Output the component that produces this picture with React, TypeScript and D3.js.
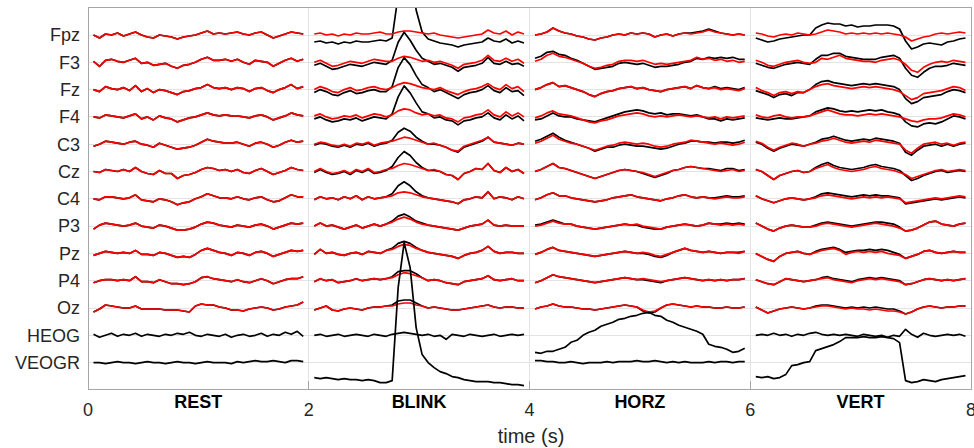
import React from "react";
import * as d3 from "d3";

// channel order, top to bottom
const channels = ["Fpz", "F3", "Fz", "F4", "C3", "Cz", "C4", "P3", "Pz", "P4", "Oz", "HEOG", "VEOGR"];
const segmentNames = ["REST", "BLINK", "HORZ", "VERT"];
const timeTicks = [0, 2, 4, 6, 8];

// 36 samples per 2 s segment, values in µV (positive up)
const samplesPerSegment = 36;
const segmentSeconds = 2;
const uvPerRow = 27.3;

// cleaned EEG (red), one row per EEG channel
const cleanRest = [
  [0, -3, 1, 0, 2, -1, 1, 3, 0, -2, -3, 0, -1, -2, -4, -2, -1, 0, 2, 4, 1, 2, 1, 2, 3, 1, 0, 2, 3, 0, -3, -1, 1, 3, 2, 1],
  [1, -4, 2, 3, 1, 0, 2, 4, -1, 0, -3, -2, -1, -4, -6, -3, -2, 0, 3, 5, 2, 2, 3, 1, 3, 0, -2, 2, 1, 0, -4, -1, 2, 4, 1, 3],
  [0, -2, 3, 1, 0, 2, -1, 4, -2, 1, -3, 0, -1, -3, -5, -2, -1, 1, 2, 5, 2, 1, 2, 0, 2, 1, -2, 1, 2, -1, -3, 0, 2, 5, 1, 3],
  [0, -1, 2, 1, 0, -1, 1, 3, -2, 0, -3, 1, -1, -2, -5, -3, -1, 0, 2, 4, 2, 1, 2, 1, 1, 0, -1, 1, 2, 0, -3, -1, 1, 4, 2, 1],
  [-2, 0, 3, 2, 1, 0, 2, 3, 0, -1, -3, 1, -1, -3, -5, -4, -3, -1, 2, 5, 3, 2, 1, 1, 2, 0, -2, 1, 2, 0, -3, -1, 2, 4, 2, 3],
  [0, -1, 2, 1, 0, 2, 0, 4, 0, -2, -3, 1, -2, -2, -7, -4, -3, -1, 2, 4, 3, 1, 2, 0, 2, -1, -2, 1, 3, 0, -3, -1, 1, 4, 2, 1],
  [0, -1, 2, 2, 1, 0, 1, 4, -1, -2, -3, 0, -1, -3, -6, -4, -3, 0, 2, 5, 3, 1, 1, 0, 2, 0, -1, 1, 2, -1, -3, -2, 1, 4, 2, 2],
  [-3, 1, 3, 2, 1, 0, 1, 3, 0, -1, -2, 1, 0, -2, -4, -4, -3, -1, 2, 4, 3, 1, 0, -1, 1, 0, -1, 1, 2, 0, -3, -1, 1, 3, 2, 3],
  [-2, 0, 2, 1, 0, 1, 0, 3, -1, -1, -2, 1, 0, -2, -4, -3, -4, -1, 3, 5, 3, 1, 0, -2, 1, 0, -2, 1, 2, 0, -3, -1, 1, 3, 2, 3],
  [-2, 0, 1, 1, 0, 1, 0, 4, -1, -1, -2, 1, -1, -3, -3, -4, -3, -1, 3, 4, 2, 1, 0, -1, 1, -1, -2, 0, 2, 0, -3, -1, 1, 2, 2, 4],
  [-4, -1, 3, 2, 1, 0, 0, 2, -1, -1, -1, -1, -2, -2, -2, -3, -4, 2, 4, 3, 3, 1, 0, -2, -2, -3, -1, 0, 1, 0, -2, -1, 1, 2, 3, 6],
];

const cleanBlink = [
  [1, 2, 0, 1, -1, 1, 0, 2, 1, 1, 2, 3, 1, 1, 3, 4, 4, 3, 2, 1, 2, 0, -1, -2, -3, -2, -1, 0, 1, 5, 2, 1, 4, 0, 3, 1],
  [0, 2, -1, -4, -3, -1, 1, 0, -1, 1, 3, 2, 1, 1, 4, 6, 5, 3, 1, 2, 0, 1, -1, -3, -6, -2, -1, 0, 2, 7, 2, 1, 4, 1, 3, -1],
  [0, 3, 1, -2, -3, 0, 2, -1, 0, 2, 3, 1, 0, 2, 5, 7, 6, 4, 2, 1, 0, 2, -1, -3, -5, -2, 0, 1, 3, 6, 2, 0, 5, 1, 3, -2],
  [1, 3, 0, -2, -1, 1, 0, 2, -1, 1, 3, 2, 0, 2, 6, 8, 7, 4, 2, 3, 1, 2, -1, -2, -5, -1, 0, 2, 3, 7, 2, 0, 5, 1, 4, 0],
  [0, 2, 1, -1, -2, 0, -2, 1, 0, 2, -1, 1, 2, 3, 5, 7, 6, 4, 2, 0, 1, -1, -3, -6, -7, -2, 0, 2, 4, 7, 2, 1, 0, -1, 1, 0],
  [0, 3, 0, -2, -1, 1, -2, 2, 0, 3, -1, 0, 2, 3, 6, 8, 7, 5, 3, 1, 2, 0, -3, -4, -8, -2, 0, 3, 2, 8, 1, -1, 4, 0, 2, -2],
  [-1, 2, 0, 1, -1, 2, 0, 3, -1, 2, 0, 1, 2, 3, 6, 7, 6, 4, 2, 1, 0, -1, -2, -3, -5, -1, 0, 2, 1, 7, 0, 2, 1, -1, 2, 0],
  [0, 3, 0, 1, -1, -3, -1, 1, -2, 0, 2, 0, 2, 4, 7, 9, 7, 4, 2, 1, 0, -1, -2, -3, -4, -2, 0, 1, 2, 6, 1, 0, 1, 0, 0, 0],
  [-1, 4, 0, 1, -1, -2, 0, 1, -1, 2, 1, 0, 3, 4, 7, 9, 8, 5, 3, 1, 0, -1, -2, -3, -5, -2, 0, 1, 3, 7, 2, 0, 1, 1, 0, 0],
  [-1, 2, 0, 1, -2, -1, 0, 2, 0, 1, 2, 1, 2, 3, 6, 8, 7, 5, 3, 0, 1, 0, -2, -3, -4, -1, 0, 1, 2, 5, 1, 0, 1, 2, 0, 0],
  [-2, 0, 2, -2, -3, -1, 0, -1, -2, 0, 1, 1, 2, 2, 4, 5, 5, 3, 2, 0, 1, 0, -1, -2, -2, -1, 0, 1, 2, 3, 1, 0, 1, 1, 0, 0],
];

const cleanHorz = [
  [0, 1, 3, 7, 4, 2, 1, -1, -2, -4, -5, -3, -2, 0, 1, 0, 2, 1, 2, 1, -2, 0, 1, -1, 1, 2, 1, 2, 3, 5, 3, 2, 1, 0, 1, 0],
  [1, 3, 7, 9, 6, 5, 3, 1, -1, -4, -6, -5, -3, -2, 1, 2, 2, 1, 2, 0, -2, -1, -2, -1, 0, 1, 2, 5, 3, 4, 2, 3, 1, 2, 0, 1],
  [0, 2, 5, 7, 3, 4, 2, 0, -2, -5, -7, -4, -2, -1, 1, 2, 3, 1, 2, 0, -1, -2, 0, 1, 2, 3, 1, 4, 2, 1, 2, 0, 1, 0, -1, 1],
  [-1, 1, 4, 6, 3, 2, 1, -1, -3, -5, -6, -4, -3, -1, 1, 2, 3, 4, 3, 1, 0, 1, 0, 1, 2, 1, 0, 1, 0, -1, 0, -2, 0, -1, 0, 1],
  [1, 3, 6, 9, 5, 3, 1, 0, -2, -4, -6, -4, -2, -1, 1, 2, 1, 0, 1, 0, -2, -3, -2, 0, 1, 2, 4, 3, 2, 1, 0, 1, 0, -1, 0, 2],
  [0, 2, 5, 8, 4, 3, 1, -1, -3, -5, -7, -5, -3, -1, 1, 2, 1, 0, -1, -3, -5, -3, -1, 1, 2, 4, 5, 4, 3, 2, 1, 0, 1, 2, 0, 1],
  [-1, 1, 4, 6, 3, 3, 1, 0, -1, -2, -3, -2, -1, 1, 2, 3, 4, 2, 1, 0, -1, -2, 0, 1, 3, 4, 2, 1, 2, 1, 0, 1, 2, 1, 1, 2],
  [0, 1, 3, 5, 3, 2, 2, 0, -1, -2, -3, -2, -1, 0, 1, 2, 1, 2, 0, -1, -2, -3, -1, 0, 1, 2, 1, 0, 1, 3, 2, 1, 2, 1, 2, 1],
  [-1, 1, 4, 6, 3, 2, 1, 0, -1, -2, -3, -2, -1, 0, 1, 2, 1, 0, 1, 0, -2, -3, -1, 1, 3, 5, 3, 2, 1, 2, 1, 0, 1, 1, 0, 2],
  [-2, 0, 3, 6, 4, 3, 2, 1, 0, -1, -2, -1, 0, 1, 2, 3, 2, 1, 2, 1, 0, -1, 0, 1, 2, 3, 2, 1, 0, 1, 0, 1, 0, 1, 1, 2],
  [-1, 1, 2, 4, 2, 1, 1, 0, -1, -1, -2, -1, 0, 1, 2, 3, 2, 1, -2, -4, -3, 0, 3, 4, 3, 2, 1, 2, 1, 1, 0, 0, 1, 0, 0, 1],
];

const cleanVert = [
  [2, 1, -1, -2, 0, 1, 0, 2, 1, 0, 1, 3, 5, 4, 3, 1, 2, 1, 2, 1, 2, 1, 2, 1, 0, -2, -6, -4, -2, -1, 1, 2, 1, 2, 3, 2],
  [2, 0, -3, -4, -2, 0, 1, 2, 0, -1, 0, 4, 3, 5, 7, 4, 3, 2, 1, 1, 0, 2, 3, 4, 2, -2, -8, -10, -5, -2, 0, 1, 0, 2, 1, 0],
  [2, -1, -3, -6, -3, -2, -4, -2, -3, 0, 3, 5, 6, 4, 3, 2, 1, 2, 3, 2, 3, 2, 1, 0, -2, -6, -10, -8, -4, -3, -2, -1, 1, 3, 2, -1],
  [2, 0, -1, 1, 2, 0, -1, 0, 0, 1, 3, 5, 7, 5, 3, 2, 2, 1, 2, 3, 2, 3, 2, 1, 0, -2, -4, -5, -3, -2, -2, -1, 1, 3, 2, 0],
  [3, 1, -3, -6, -3, -1, 1, 0, -2, 0, 1, 3, 4, 6, 4, 2, 1, 2, 3, 2, 4, 3, 2, 1, 0, -6, -9, -4, 0, 1, 2, 0, 1, -1, 1, 2],
  [2, 0, -4, -8, -4, -2, 0, 1, -1, 0, 3, 5, 7, 4, 2, 1, 0, 1, 2, 4, 5, 3, 2, 1, -1, -3, -7, -5, -3, -1, 1, 2, 0, 1, 2, 1],
  [3, 0, -2, -4, -2, 0, 1, 0, -1, 0, 1, 3, 4, 3, 2, 1, 0, 1, 2, 1, 2, 1, 2, 1, 0, -4, -3, -2, -1, 0, 1, 0, 1, 2, 3, 2],
  [3, 0, -3, -5, -2, 0, 1, 0, -1, -1, 0, 2, 3, 2, 1, 0, -1, 0, 1, 2, 3, 2, 1, 0, -2, -5, -4, -2, 1, 4, 5, 2, 1, 0, 2, 3],
  [0, -3, -6, -8, -3, 0, 1, 2, 0, -1, 1, 3, 4, 5, 3, -1, 1, 2, 1, 2, 1, 2, 0, -1, -2, -5, -3, -1, 2, 3, 1, 0, 1, 2, 1, 1],
  [1, -1, -3, -4, -1, 2, 1, 0, -1, 0, 1, 2, 3, 1, 0, -1, -2, 0, 1, 2, 1, 2, 1, 0, -1, -4, -3, -1, 1, 2, 1, 0, 1, 0, 1, 2],
  [1, -2, -5, -3, -1, 0, 1, 0, -1, 0, 1, 2, 2, 1, 0, -1, 0, -1, -1, -2, -1, -2, -3, -3, -4, -6, -4, -1, 1, 2, 1, 0, 1, 1, 2, 2],
];

// raw EEG (black); at rest it is the same as the cleaned signal
const rawRest = cleanRest;

const rawBlink = [
  [-7, -6, -8, -7, -9, -7, -8, -6, -7, -7, -6, -5, -6, -3, 40, 85, 70, 25, 3, -4, -6, -8, -9, -10, -12, -10, -9, -8, -7, -3, -6, -7, -4, -8, -6, -8],
  [-3, -1, -4, -7, -6, -4, -2, -3, -4, -2, 0, -1, -2, 2, 20, 30, 22, 12, 4, 1, -2, -1, -3, -5, -9, -5, -4, -3, -1, 5, -1, -2, 1, -2, -1, -4],
  [-3, 0, -2, -5, -6, -3, -1, -4, -3, -1, 0, -2, -2, 3, 22, 32, 25, 14, 5, 2, -2, 0, -3, -6, -9, -5, -3, -2, 0, 4, -1, -3, 2, -2, -1, -6],
  [-2, 0, -3, -5, -4, -2, -3, -1, -4, -2, 0, -1, -2, 3, 20, 31, 24, 14, 5, 3, -1, 0, -3, -4, -8, -4, -3, -1, 0, 4, -1, -3, 2, -2, 1, -4],
  [-1, 1, 0, -2, -3, -1, -3, 0, -1, 1, -2, 0, 1, 4, 12, 16, 13, 7, 3, 0, 0, -1, -3, -6, -8, -3, -1, 1, 3, 7, 2, 1, 0, -1, 1, 0],
  [-1, 2, -1, -3, -2, 0, -3, 1, -1, 2, -2, -1, 1, 5, 14, 20, 16, 9, 4, 1, 1, 0, -3, -4, -8, -2, 0, 3, 2, 8, 1, -1, 4, 0, 2, -2],
  [-1, 2, 0, 1, -1, 2, 0, 3, -1, 2, 0, 1, 2, 5, 13, 17, 13, 7, 3, 1, 0, -1, -2, -3, -5, -1, 0, 2, 1, 7, 0, 2, 1, -1, 2, 0],
  [0, 3, 0, 1, -1, -3, -1, 1, -2, 0, 2, 0, 2, 5, 10, 12, 9, 5, 3, 1, 0, -1, -2, -3, -4, -2, 0, 1, 2, 6, 1, 0, 1, 0, 0, 0],
  [-1, 4, 0, 1, -1, -2, 0, 1, -1, 2, 1, 0, 3, 5, 10, 12, 10, 6, 3, 1, 0, -1, -2, -3, -5, -2, 0, 1, 3, 7, 2, 0, 1, 1, 0, 0],
  [-1, 2, 0, 1, -2, -1, 0, 2, 0, 1, 2, 1, 2, 4, 9, 10, 10, 7, 3, 0, 1, 0, -2, -3, -4, -1, 0, 1, 2, 5, 1, 0, 1, 2, 0, 0],
  [-2, 0, 2, -2, -3, -1, 0, -1, -2, 0, 1, 1, 2, 3, 7, 8, 8, 5, 2, 0, 1, 0, -1, -2, -2, -1, 0, 1, 2, 3, 1, 0, 1, 1, 0, 0],
];

const rawHorz = [
  [0, 1, 3, 7, 4, 2, 1, -1, -2, -4, -5, -3, -2, 0, 1, 0, 2, 1, 2, 1, -2, 0, 1, -1, 1, 2, 2, 3, 4, 6, 4, 2, 1, 0, 1, 0],
  [4, 6, 10, 11, 8, 7, 4, 2, -1, -4, -7, -6, -5, -4, -1, 0, -1, -2, -1, -3, -5, -4, -4, -3, -2, 0, 1, 4, 3, 5, 4, 5, 4, 5, 3, 3],
  [0, 2, 5, 7, 3, 4, 2, 0, -2, -5, -7, -4, -2, -1, 1, 2, 3, 1, 2, 0, -1, -2, 0, 1, 2, 3, 1, 4, 2, 1, 3, 1, 2, 1, 0, 2],
  [-3, -2, 1, 4, 1, 0, 0, -2, -3, -4, -5, -3, -1, 1, 3, 5, 6, 7, 6, 4, 3, 4, 2, 3, 3, 2, 1, 2, 0, -2, -2, -4, -2, -3, -2, -1],
  [3, 5, 8, 11, 7, 4, 2, 0, -2, -4, -7, -5, -3, -3, -1, 0, -1, -2, -2, -3, -4, -5, -4, -2, 0, 1, 3, 3, 2, 2, 1, 2, 2, 1, 2, 4],
  [0, 2, 5, 8, 4, 3, 1, -1, -3, -5, -7, -5, -3, -1, 1, 2, 1, 0, -2, -4, -6, -4, -2, 1, 2, 4, 5, 4, 3, 3, 2, 1, 3, 3, 1, 2],
  [-1, 1, 4, 6, 3, 3, 1, 0, -1, -2, -3, -2, -1, 1, 2, 3, 4, 2, 1, 0, -1, -2, 0, 1, 3, 4, 2, 1, 2, 1, 1, 2, 3, 2, 2, 3],
  [1, 2, 4, 6, 4, 2, 2, 0, -1, -2, -3, -2, -1, 0, 1, 2, 1, 1, -1, -2, -3, -3, -1, 0, 1, 2, 1, 0, 1, 3, 2, 2, 3, 2, 3, 2],
  [-1, 1, 4, 6, 3, 2, 1, 0, -1, -2, -3, -2, -1, 0, 1, 2, 1, 0, 0, -1, -3, -4, -2, 1, 3, 5, 3, 2, 1, 2, 1, 0, 1, 1, 1, 2],
  [-2, 0, 3, 6, 4, 3, 2, 1, 0, -1, -2, -1, 0, 1, 2, 3, 2, 1, 1, 0, -1, -2, 0, 1, 2, 3, 2, 1, 0, 1, 0, 1, 0, 1, 1, 2],
  [-1, 1, 2, 4, 2, 1, 1, 0, -1, -1, -2, -1, 0, 1, 2, 3, 2, 1, -3, -5, -4, 0, 3, 4, 3, 2, 1, 2, 1, 1, 0, 0, 1, 0, 0, 1],
];

const rawVert = [
  [-3, -5, -7, -6, -4, -3, -2, -1, 0, 0, 7, 10, 12, 11, 11, 9, 10, 8, 9, 9, 10, 10, 10, 9, 6, -6, -14, -12, -9, -8, -9, -10, -7, -6, -4, -3],
  [-1, -3, -5, -6, -4, -2, -1, 0, -1, -2, 3, 7, 7, 9, 9, 6, 5, 4, 3, 3, 3, 5, 6, 7, 4, -6, -13, -15, -10, -6, -4, -4, -3, -1, -2, -3],
  [-1, -3, -5, -8, -5, -4, -6, -3, -3, 0, 5, 8, 9, 7, 6, 5, 4, 5, 6, 5, 6, 5, 4, 3, 0, -9, -14, -12, -8, -7, -6, -5, -2, 0, -1, -3],
  [-1, -2, -3, -2, -1, -2, -2, -1, 0, 1, 5, 7, 9, 8, 6, 5, 6, 5, 6, 7, 6, 7, 5, 4, 2, -5, -9, -10, -7, -6, -7, -5, -2, 1, 0, -2],
  [2, 0, -4, -7, -4, -2, 0, -1, -2, 0, 2, 5, 6, 8, 6, 4, 3, 4, 5, 4, 6, 5, 4, 3, 1, -8, -11, -6, -2, -1, 0, -2, 0, -2, 0, 1],
  [2, 0, -4, -8, -4, -2, 0, 1, -1, 0, 4, 7, 9, 6, 4, 3, 2, 3, 4, 6, 7, 5, 4, 3, 1, -4, -9, -7, -4, -2, 0, 1, -1, 0, 1, 0],
  [3, 0, -2, -4, -2, 0, 1, 0, -1, 0, 2, 5, 6, 5, 4, 3, 2, 3, 4, 3, 4, 3, 3, 2, 1, -5, -4, -3, -2, -1, 0, -1, 0, 1, 2, 1],
  [3, 0, -3, -5, -2, 0, 1, 0, -1, -1, 1, 3, 4, 3, 2, 1, 0, 1, 2, 3, 4, 4, 3, 2, -1, -5, -4, -2, 1, 4, 5, 2, 1, 0, 2, 3],
  [0, -3, -6, -8, -3, 0, 1, 2, 0, -1, 2, 4, 5, 6, 4, 1, 2, 3, 3, 4, 3, 4, 3, 1, -1, -5, -3, -1, 2, 3, 1, 0, 1, 2, 1, 1],
  [1, -1, -3, -4, -1, 2, 1, 0, -1, 0, 1, 3, 4, 2, 1, 0, -1, 1, 2, 3, 2, 3, 2, 1, 0, -4, -3, -1, 1, 2, 1, 0, 1, 0, 1, 2],
  [1, -2, -5, -3, -1, 0, 1, 0, -1, 0, 2, 3, 3, 2, 1, 0, 1, 0, 1, 0, 1, 0, -1, -1, -3, -6, -4, -1, 1, 2, 1, 0, 1, 1, 2, 2],
];

// EOG channels, one row per segment (REST, BLINK, HORZ, VERT)
const heog = [
  [1, -2, 0, 2, -1, 1, 0, 2, -1, 1, 0, -1, 1, 0, 2, 1, 3, 0, -1, 1, 0, -1, 1, -2, 0, 1, -1, 0, 2, -1, 1, 0, 3, 1, 4, -1],
  [0, 1, -1, 0, 1, -1, 0, 1, 0, -1, 1, 0, -1, 1, 2, 3, 2, 1, 0, 1, -1, 0, -4, 1, 0, -1, 1, 0, -1, 0, 1, -1, 0, 1, 0, 1],
  [-17, -18, -16, -16, -14, -12, -7, -5, 0, 3, 5, 9, 11, 13, 16, 17, 19, 20, 22, 23, 20, 19, 15, 13, 10, 8, 6, 4, 1, -9, -11, -12, -14, -17, -16, -13],
  [0, 1, 0, 2, 0, 1, -1, 1, 0, 2, 3, 1, 0, 1, 0, 1, 0, -1, 1, 0, -1, 0, -2, 0, -1, 6, 1, -2, 2, 0, -1, 0, 1, 0, 1, -1],
];

const veogr = [
  [0, 0, -1, 0, 1, 0, 0, -1, 0, 1, 0, 0, -1, 0, 1, 0, 0, -1, 0, 1, 0, 0, 0, -1, 1, 0, 1, 2, 1, 1, 2, 1, 0, 2, 2, 1],
  [-15, -16, -15, -16, -17, -16, -17, -17, -18, -17, -18, -20, -20, -18, 75, 120, 95, 35, 8, 0, -5, -9, -11, -14, -15, -17, -18, -19, -19, -19, -20, -20, -21, -22, -22, -23],
  [2, 2, 1, 1, 0, 0, 1, 0, -1, 0, 0, 0, 1, 0, 1, 1, 1, 2, 1, 1, 2, 1, 0, 1, 0, 1, 0, 0, 0, 1, 0, 1, 1, 0, 1, 1],
  [-14, -15, -14, -16, -15, -12, -3, -2, 0, 1, 12, 14, 16, 18, 21, 25, 25, 25, 26, 25, 25, 26, 25, 24, 20, -18, -20, -19, -17, -18, -19, -17, -16, -15, -14, -13],
];

const cleanSegments = [cleanRest, cleanBlink, cleanHorz, cleanVert];
const rawSegments = [rawRest, rawBlink, rawHorz, rawVert];

const FONT = "'Liberation Sans', Arial, Helvetica, sans-serif";

export default function App() {
  const width = 974;
  const height = 448;
  const plotLeft = 88;
  const plotRight = 971;
  const plotTop = 7.7;
  const plotBottom = 389.9;

  const x = d3.scaleLinear().domain([0, 8]).range([plotLeft, plotRight]);
  const y = d3
    .scaleLinear()
    .domain([0, channels.length + 1])
    .range([plotTop, plotBottom]);

  const sampleTime = (seg: number, i: number) =>
    seg * segmentSeconds + 0.05 + (i * (segmentSeconds - 0.1)) / (samplesPerSegment - 1);

  const trace = (values: number[], seg: number, row: number) =>
    d3
      .line<number>()
      .x((_, i) => x(sampleTime(seg, i)))
      .y((v) => y(row - v / uvPerRow))(values) || "";

  const gridColor = "#e3e3e3";
  const axisColor = "#a6a6a6";
  const textColor = "#262626";
  const lw = 1.7;

  return (
    <svg
      width={width}
      height={height}
      style={{ position: "absolute", left: 0, top: 0, background: "#fff" }}
    >
      <defs>
        <clipPath id="plot-area">
          <rect x={plotLeft} y={plotTop} width={plotRight - plotLeft} height={plotBottom - plotTop} />
        </clipPath>
      </defs>

      {/* grid */}
      <g shapeRendering="crispEdges">
        {channels.map((c, k) => (
          <line key={c} x1={plotLeft} x2={plotRight} y1={y(k + 1)} y2={y(k + 1)} stroke={gridColor} strokeWidth={1} />
        ))}
        {timeTicks.slice(1, -1).map((t) => (
          <line key={t} x1={x(t)} x2={x(t)} y1={plotTop} y2={plotBottom} stroke={gridColor} strokeWidth={1} />
        ))}
      </g>

      <g clipPath="url(#plot-area)" fill="none" strokeLinejoin="round">
        {segmentNames.map((s, seg) => (
          <g key={s}>
            {rawSegments[seg].map((vals, ch) => (
              <g key={ch}>
                <path d={trace(vals, seg, ch + 1)} stroke="#000" strokeWidth={lw} />
                <path d={trace(cleanSegments[seg][ch], seg, ch + 1)} stroke="#ff0000" strokeWidth={lw} />
              </g>
            ))}
            <path d={trace(heog[seg], seg, 12)} stroke="#000" strokeWidth={lw} />
            <path d={trace(veogr[seg], seg, 13)} stroke="#000" strokeWidth={lw} />
          </g>
        ))}
      </g>

      {/* axes box and ticks */}
      <g shapeRendering="crispEdges" stroke={axisColor} strokeWidth={1}>
        <rect x={plotLeft} y={plotTop} width={plotRight - plotLeft} height={plotBottom - plotTop} fill="none" />
        {timeTicks.map((t) => (
          <line key={t} x1={x(t)} x2={x(t)} y1={plotBottom} y2={plotBottom - 9} />
        ))}
      </g>

      {/* channel labels */}
      <g fontFamily={FONT} fontSize={18} fill={textColor} textAnchor="end">
        {channels.map((c, k) => (
          <text key={c} x={plotLeft - 8} y={y(k + 1)} dy="0.35em">
            {c}
          </text>
        ))}
      </g>

      {/* time ticks */}
      <g fontFamily={FONT} fontSize={18} fill={textColor} textAnchor="middle">
        {timeTicks.map((t) => (
          <text key={t} x={x(t)} y={416}>
            {t}
          </text>
        ))}
      </g>

      {/* segment names */}
      <g fontFamily={FONT} fontSize={18} fontWeight="bold" fill="#000" textAnchor="middle">
        {segmentNames.map((s, seg) => (
          <text key={s} x={x(seg * segmentSeconds + segmentSeconds / 2)} y={408}>
            {s}
          </text>
        ))}
      </g>

      <text x={531} y={443} fontFamily={FONT} fontSize={20} fill={textColor} textAnchor="middle">
        time (s)
      </text>
    </svg>
  );
}
